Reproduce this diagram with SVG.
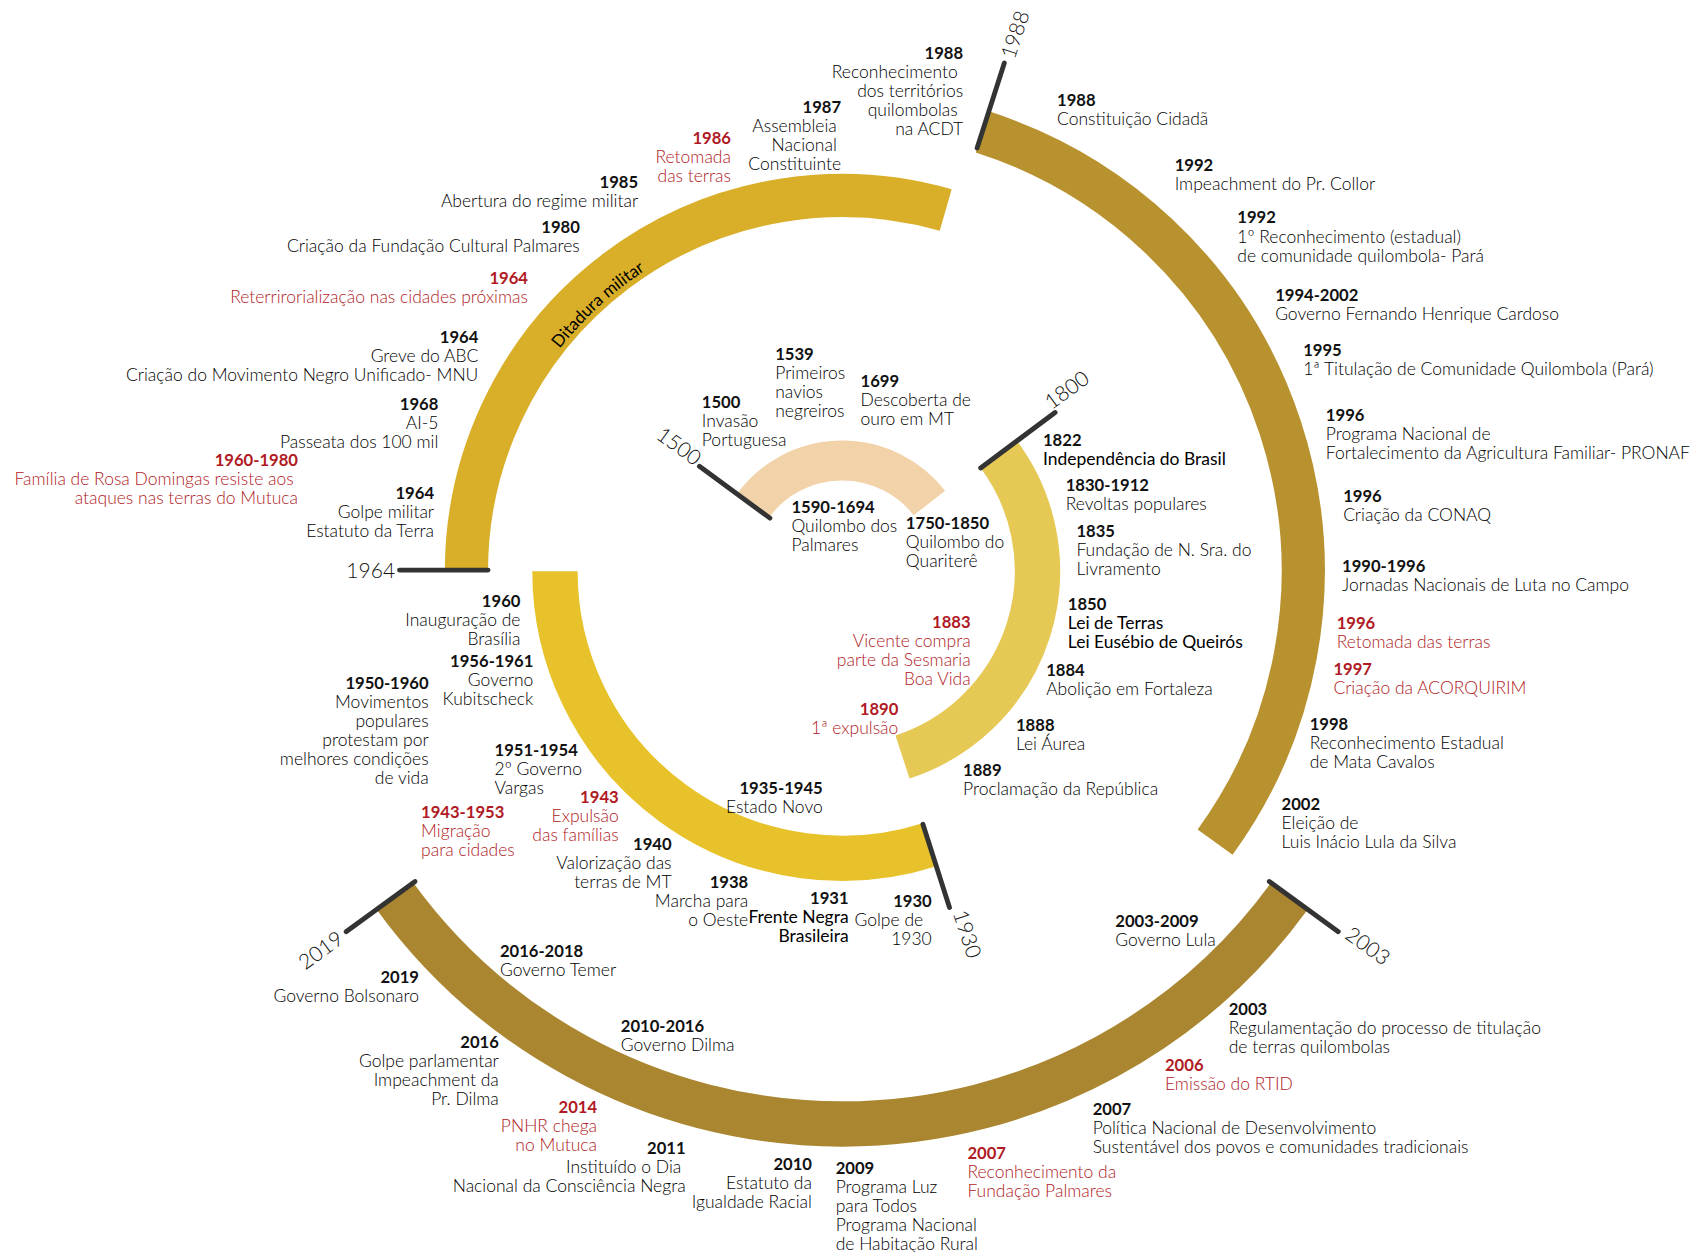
<svg xmlns="http://www.w3.org/2000/svg" width="1693" height="1252" viewBox="0 0 1693 1252">
<style>
.t{font-family:Lato,"Liberation Sans",sans-serif;font-size:16.2px;font-weight:300;fill:#000}
.y{font-weight:700;fill:#111;font-size:15.4px}
.m{font-weight:400;fill:#000}
.r{fill:#B01A24}
.e{text-anchor:end}
.ring{fill:none;stroke-linecap:butt}
.tick{stroke:#333;stroke-width:4.5;stroke-linecap:round;fill:none}
.tl{font-family:Lato,"Liberation Sans",sans-serif;font-size:19.5px;font-weight:300;fill:#111;text-anchor:middle}
</style>
<defs>
<path id="ditPath" d="M467.1,415.1 A333,333 0 0 1 693.8,207.4"/>
</defs>
<rect width="1693" height="1252" fill="#fff"/>
<g transform="scale(1.0797)">
<g id="rings">
<path class="ring" stroke="#F2D2A9" stroke-width="37" d="M697.1,468.8 A102.5,102.5 0 0 1 860.8,465.9"/>
<path class="ring" stroke="#E6C854" stroke-width="42" d="M924.5,420.1 A181,181 0 0 1 835.9,701.1"/>
<path class="ring" stroke="#E8C22A" stroke-width="42" d="M860.9,782.4 A266,266 0 0 1 514,529"/>
<path class="ring" stroke="#D9AE29" stroke-width="40" d="M432,529 A348,348 0 0 1 875.9,194.5"/>
<path class="ring" stroke="#B99230" stroke-width="40" d="M909.8,122.2 A427,427 0 0 1 1125.4,780"/>
<path class="ring" stroke="#A9862F" stroke-width="42" d="M1194.2,830 A512,512 0 0 1 365.8,830"/>
<text class="t" style="font-size:15.8px;font-weight:400"><textPath href="#ditPath" startOffset="50%" text-anchor="middle">Ditadura militar</textPath></text>
</g>
<g id="connectors">
<line class="tick" x1="713.1" y1="479.9" x2="647.8" y2="431.9"/>
<line class="tick" x1="908.3" y1="433.4" x2="977.2" y2="382"/>
<line class="tick" x1="854.8" y1="763.4" x2="879.4" y2="840.5"/>
<line class="tick" x1="452" y1="528" x2="370" y2="528"/>
<line class="tick" x1="905" y1="137" x2="930.2" y2="58.4"/>
<line class="tick" x1="1175.6" y1="816.4" x2="1239.5" y2="862.9"/>
<line class="tick" x1="384.4" y1="816.4" x2="320.5" y2="862.9"/>
</g>
<g id="tick-labels">
<text class="tl" transform="translate(629,413) rotate(36)" y="7">1500</text>
<text class="tl" transform="translate(988,361) rotate(-36)" y="7">1800</text>
<text class="tl" transform="translate(896,865) rotate(72)" y="7">1930</text>
<text class="tl" x="366" y="535" style="text-anchor:end">1964</text>
<text class="tl" transform="translate(940,32) rotate(-72)" y="7">1988</text>
<text class="tl" transform="translate(1267,876) rotate(36)" y="7">2003</text>
<text class="tl" transform="translate(297,880) rotate(-36)" y="7">2019</text>
</g>

<g id="e1988a"><text class="t e" x="892" y="55"><tspan class="y">1988</tspan><tspan x="887" dy="17.6">Reconhecimento</tspan><tspan x="892" dy="17.6">dos territórios</tspan><tspan x="887" dy="17.6">quilombolas</tspan><tspan x="892" dy="17.6">na ACDT</tspan></text></g>
<g id="e1987"><text class="t e" x="779" y="105"><tspan class="y">1987</tspan><tspan x="775" dy="17.6">Assembleia</tspan><tspan x="775" dy="17.6">Nacional</tspan><tspan x="779" dy="17.6">Constituinte</tspan></text></g>
<g id="e1986"><text class="t e r" x="677" y="133"><tspan class="y r">1986</tspan><tspan x="677" dy="17.6">Retomada</tspan><tspan x="677" dy="17.6">das terras</tspan></text></g>
<g id="e1985"><text class="t e" x="591" y="174"><tspan class="y">1985</tspan><tspan x="591" dy="17.6">Abertura do regime militar</tspan></text></g>
<g id="e1980"><text class="t e" x="537" y="216"><tspan class="y">1980</tspan><tspan x="537" dy="17.6">Criação da Fundação Cultural Palmares</tspan></text></g>
<g id="e1964r"><text class="t e r" x="489" y="263"><tspan class="y r">1964</tspan><tspan x="489" dy="17.6">Reterrirorialização nas cidades próximas</tspan></text></g>
<g id="e1964b"><text class="t e" x="443" y="318"><tspan class="y">1964</tspan><tspan x="443" dy="17.6">Greve do ABC</tspan><tspan x="443" dy="17.6">Criação do Movimento Negro Unificado- MNU</tspan></text></g>
<g id="e1968"><text class="t e" x="406" y="380"><tspan class="y">1968</tspan><tspan x="406" dy="17.6">AI-5</tspan><tspan x="406" dy="17.6">Passeata dos 100 mil</tspan></text></g>
<g id="e1960r"><text class="t e r" x="276" y="432"><tspan class="y r">1960-1980</tspan><tspan x="272" dy="17.6">Família de Rosa Domingas resiste aos</tspan><tspan x="276" dy="17.6">ataques nas terras do Mutuca</tspan></text></g>
<g id="e1964g"><text class="t e" x="402" y="462"><tspan class="y">1964</tspan><tspan x="402" dy="17.6">Golpe militar</tspan><tspan x="402" dy="17.6">Estatuto da Terra</tspan></text></g>

<g id="e1539"><text class="t" x="718" y="333"><tspan class="y">1539</tspan><tspan x="718" dy="17.6">Primeiros</tspan><tspan x="718" dy="17.6">navios</tspan><tspan x="718" dy="17.6">negreiros</tspan></text></g>
<g id="e1699"><text class="t" x="797" y="358"><tspan class="y">1699</tspan><tspan x="797" dy="17.6">Descoberta de</tspan><tspan x="797" dy="17.6">ouro em MT</tspan></text></g>
<g id="e1500"><text class="t" x="650" y="378"><tspan class="y">1500</tspan><tspan x="650" dy="17.6">Invasão</tspan><tspan x="650" dy="17.6">Portuguesa</tspan></text></g>
<g id="e1590"><text class="t" x="733" y="475"><tspan class="y">1590-1694</tspan><tspan x="733" dy="17.6">Quilombo dos</tspan><tspan x="733" dy="17.6">Palmares</tspan></text></g>
<g id="e1750"><text class="t" x="839" y="490"><tspan class="y">1750-1850</tspan><tspan x="839" dy="17.6">Quilombo do</tspan><tspan x="839" dy="17.6">Quariterê</tspan></text></g>

<g id="e1822"><text class="t" x="966" y="413"><tspan class="y">1822</tspan><tspan class="m" x="966" dy="17.6">Independência do Brasil</tspan></text></g>
<g id="e1830"><text class="t" x="987" y="455"><tspan class="y">1830-1912</tspan><tspan x="987" dy="17.6">Revoltas populares</tspan></text></g>
<g id="e1835"><text class="t" x="997" y="497"><tspan class="y">1835</tspan><tspan x="997" dy="17.6">Fundação de N. Sra. do</tspan><tspan x="997" dy="17.6">Livramento</tspan></text></g>
<g id="e1850"><text class="t" x="989" y="565"><tspan class="y">1850</tspan><tspan class="m" x="989" dy="17.6">Lei de Terras</tspan><tspan class="m" x="989" dy="17.6">Lei Eusébio de Queirós</tspan></text></g>
<g id="e1884"><text class="t" x="969" y="626"><tspan class="y">1884</tspan><tspan x="969" dy="17.6">Abolição em Fortaleza</tspan></text></g>
<g id="e1888"><text class="t" x="941" y="677"><tspan class="y">1888</tspan><tspan x="941" dy="17.6">Lei Áurea</tspan></text></g>
<g id="e1889"><text class="t" x="892" y="719"><tspan class="y">1889</tspan><tspan x="892" dy="17.6">Proclamação da República</tspan></text></g>
<g id="e1883"><text class="t e r" x="899" y="582"><tspan class="y r">1883</tspan><tspan x="899" dy="17.6">Vicente compra</tspan><tspan x="899" dy="17.6">parte da Sesmaria</tspan><tspan x="899" dy="17.6">Boa Vida</tspan></text></g>
<g id="e1890"><text class="t e r" x="832" y="662"><tspan class="y r">1890</tspan><tspan x="832" dy="17.6">1ª expulsão</tspan></text></g>

<g id="e1960"><text class="t e" x="482" y="562"><tspan class="y">1960</tspan><tspan x="482" dy="17.6">Inauguração de</tspan><tspan x="482" dy="17.6">Brasília</tspan></text></g>
<g id="e1956"><text class="t e" x="494" y="618"><tspan class="y">1956-1961</tspan><tspan x="494" dy="17.6">Governo</tspan><tspan x="494" dy="17.6">Kubitscheck</tspan></text></g>
<g id="e1950"><text class="t e" x="397" y="638"><tspan class="y">1950-1960</tspan><tspan x="397" dy="17.6">Movimentos</tspan><tspan x="397" dy="17.6">populares</tspan><tspan x="397" dy="17.6">protestam por</tspan><tspan x="397" dy="17.6">melhores condições</tspan><tspan x="397" dy="17.6">de vida</tspan></text></g>
<g id="e1951"><text class="t" x="458" y="700"><tspan class="y">1951-1954</tspan><tspan x="458" dy="17.6">2º Governo</tspan><tspan x="458" dy="17.6">Vargas</tspan></text></g>
<g id="e1943"><text class="t e r" x="573" y="744"><tspan class="y r">1943</tspan><tspan x="573" dy="17.6">Expulsão</tspan><tspan x="573" dy="17.6">das famílias</tspan></text></g>
<g id="e1943b"><text class="t r" x="390" y="758"><tspan class="y r">1943-1953</tspan><tspan x="390" dy="17.6">Migração</tspan><tspan x="390" dy="17.6">para cidades</tspan></text></g>
<g id="e1935"><text class="t e" x="762" y="735"><tspan class="y">1935-1945</tspan><tspan x="762" dy="17.6">Estado Novo</tspan></text></g>
<g id="e1940"><text class="t e" x="622" y="787"><tspan class="y">1940</tspan><tspan x="622" dy="17.6">Valorização das</tspan><tspan x="622" dy="17.6">terras de MT</tspan></text></g>
<g id="e1938"><text class="t e" x="693" y="822"><tspan class="y">1938</tspan><tspan x="693" dy="17.6">Marcha para</tspan><tspan x="693" dy="17.6">o Oeste</tspan></text></g>
<g id="e1931"><text class="t e" x="786" y="837"><tspan class="y">1931</tspan><tspan class="m" x="786" dy="17.6">Frente Negra</tspan><tspan class="m" x="786" dy="17.6">Brasileira</tspan></text></g>
<g id="e1930"><text class="t e" x="863" y="840"><tspan class="y">1930</tspan><tspan x="855" dy="17.6">Golpe de</tspan><tspan x="863" dy="17.6">1930</tspan></text></g>

<g id="e1988c"><text class="t" x="979" y="98"><tspan class="y">1988</tspan><tspan x="979" dy="17.6">Constituição Cidadã</tspan></text></g>
<g id="e1992a"><text class="t" x="1088" y="158"><tspan class="y">1992</tspan><tspan x="1088" dy="17.6">Impeachment do Pr. Collor</tspan></text></g>
<g id="e1992b"><text class="t" x="1146" y="207"><tspan class="y">1992</tspan><tspan x="1146" dy="17.6">1º Reconhecimento (estadual)</tspan><tspan x="1146" dy="17.6">de comunidade quilombola- Pará</tspan></text></g>
<g id="e1994"><text class="t" x="1181" y="279"><tspan class="y">1994-2002</tspan><tspan x="1181" dy="17.6">Governo Fernando Henrique Cardoso</tspan></text></g>
<g id="e1995"><text class="t" x="1207" y="330"><tspan class="y">1995</tspan><tspan x="1207" dy="17.6">1ª Titulação de Comunidade Quilombola (Pará)</tspan></text></g>
<g id="e1996a"><text class="t" x="1228" y="390"><tspan class="y">1996</tspan><tspan x="1228" dy="17.6">Programa Nacional de</tspan><tspan x="1228" dy="17.6">Fortalecimento da Agricultura Familiar- PRONAF</tspan></text></g>
<g id="e1996b"><text class="t" x="1244" y="465"><tspan class="y">1996</tspan><tspan x="1244" dy="17.6">Criação da CONAQ</tspan></text></g>
<g id="e1990"><text class="t" x="1243" y="530"><tspan class="y">1990-1996</tspan><tspan x="1243" dy="17.6">Jornadas Nacionais de Luta no Campo</tspan></text></g>
<g id="e1996r"><text class="t r" x="1238" y="583"><tspan class="y r">1996</tspan><tspan x="1238" dy="17.6">Retomada das terras</tspan></text></g>
<g id="e1997"><text class="t r" x="1235" y="625"><tspan class="y r">1997</tspan><tspan x="1235" dy="17.6">Criação da ACORQUIRIM</tspan></text></g>
<g id="e1998"><text class="t" x="1213" y="676"><tspan class="y">1998</tspan><tspan x="1213" dy="17.6">Reconhecimento Estadual</tspan><tspan x="1213" dy="17.6">de Mata Cavalos</tspan></text></g>
<g id="e2002"><text class="t" x="1187" y="750"><tspan class="y">2002</tspan><tspan x="1187" dy="17.6">Eleição de</tspan><tspan x="1187" dy="17.6">Luis Inácio Lula da Silva</tspan></text></g>

<g id="e2003b"><text class="t" x="1033" y="859"><tspan class="y">2003-2009</tspan><tspan x="1033" dy="17.6">Governo Lula</tspan></text></g>
<g id="e2003"><text class="t" x="1138" y="940"><tspan class="y">2003</tspan><tspan x="1138" dy="17.6">Regulamentação do processo de titulação</tspan><tspan x="1138" dy="17.6">de terras quilombolas</tspan></text></g>
<g id="e2006"><text class="t r" x="1079" y="992"><tspan class="y r">2006</tspan><tspan x="1079" dy="17.6">Emissão do RTID</tspan></text></g>
<g id="e2007"><text class="t" x="1012" y="1033"><tspan class="y">2007</tspan><tspan x="1012" dy="17.6">Política Nacional de Desenvolvimento</tspan><tspan x="1012" dy="17.6">Sustentável dos povos e comunidades tradicionais</tspan></text></g>
<g id="e2007r"><text class="t r" x="896" y="1073"><tspan class="y r">2007</tspan><tspan x="896" dy="17.6">Reconhecimento da</tspan><tspan x="896" dy="17.6">Fundação Palmares</tspan></text></g>
<g id="e2009"><text class="t" x="774" y="1087"><tspan class="y">2009</tspan><tspan x="774" dy="17.6">Programa Luz</tspan><tspan x="774" dy="17.6">para Todos</tspan><tspan x="774" dy="17.6">Programa Nacional</tspan><tspan x="774" dy="17.6">de Habitação Rural</tspan></text></g>
<g id="e2010"><text class="t e" x="752" y="1084"><tspan class="y">2010</tspan><tspan x="752" dy="17.6">Estatuto da</tspan><tspan x="752" dy="17.6">Igualdade Racial</tspan></text></g>
<g id="e2011"><text class="t e" x="635" y="1069"><tspan class="y">2011</tspan><tspan x="631" dy="17.6">Instituído o Dia</tspan><tspan x="635" dy="17.6">Nacional da Consciência Negra</tspan></text></g>
<g id="e2014"><text class="t e r" x="553" y="1031"><tspan class="y r">2014</tspan><tspan x="553" dy="17.6">PNHR chega</tspan><tspan x="553" dy="17.6">no Mutuca</tspan></text></g>
<g id="e2016"><text class="t e" x="462" y="971"><tspan class="y">2016</tspan><tspan x="462" dy="17.6">Golpe parlamentar</tspan><tspan x="462" dy="17.6">Impeachment da</tspan><tspan x="462" dy="17.6">Pr. Dilma</tspan></text></g>
<g id="e2010b"><text class="t" x="575" y="956"><tspan class="y">2010-2016</tspan><tspan x="575" dy="17.6">Governo Dilma</tspan></text></g>
<g id="e2016b"><text class="t" x="463" y="886"><tspan class="y">2016-2018</tspan><tspan x="463" dy="17.6">Governo Temer</tspan></text></g>
<g id="e2019"><text class="t e" x="388" y="910"><tspan class="y">2019</tspan><tspan x="388" dy="17.6">Governo Bolsonaro</tspan></text></g>
</g>
</svg>
